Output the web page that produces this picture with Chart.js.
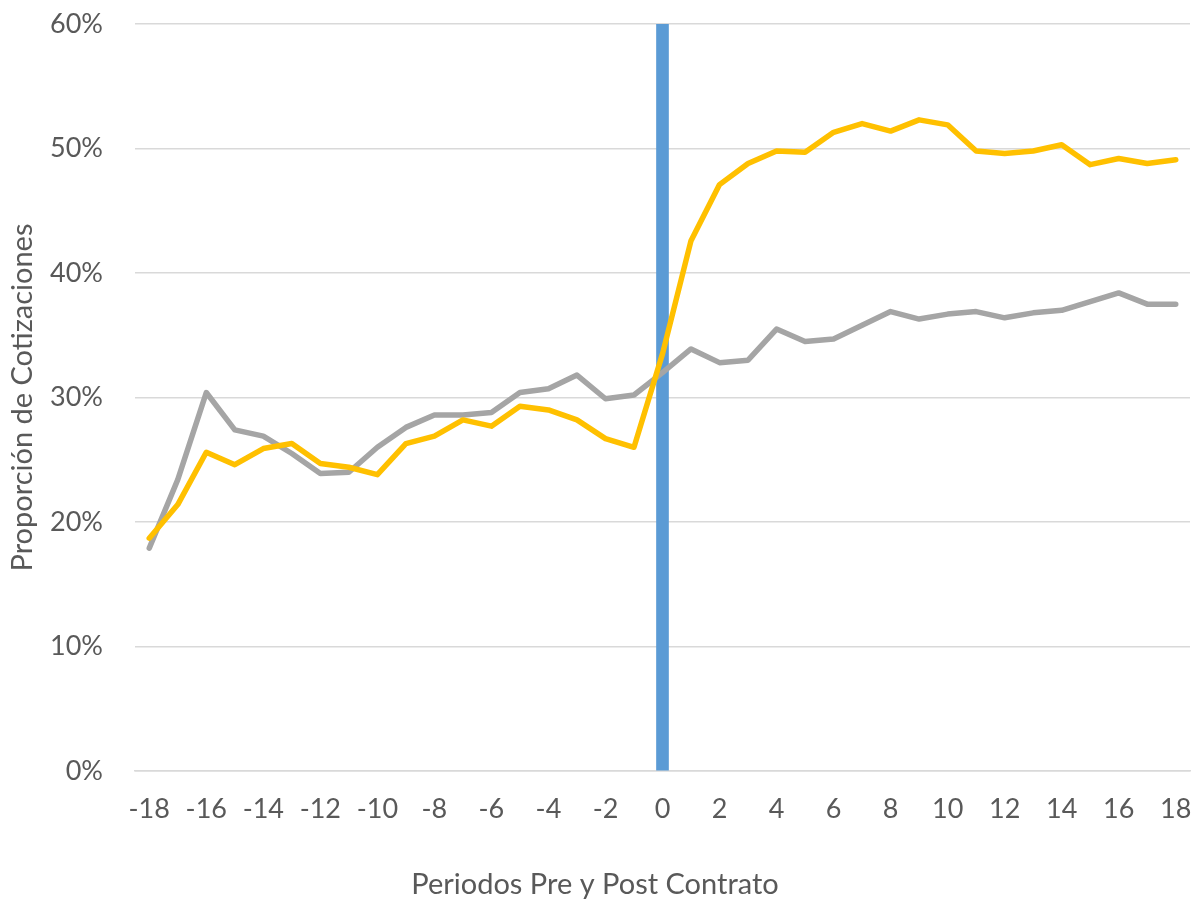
<!DOCTYPE html>
<html>
<head>
<meta charset="utf-8">
<script src="https://cdn.jsdelivr.net/npm/chart.js@4.4.1/dist/chart.umd.min.js"></script>
<style>
  html, body { margin: 0; padding: 0; background: #ffffff; }
  #wrap { width: 1198px; height: 903px; }
</style>
</head>
<body>
<div id="wrap"><canvas id="c" width="1198" height="903"></canvas></div>
<script>
const periods = ["-18","-17","-16","-15","-14","-13","-12","-11","-10","-9","-8","-7","-6","-5","-4","-3","-2","-1","0","1","2","3","4","5","6","7","8","9","10","11","12","13","14","15","16","17","18"];
const graySeries = [0.179,0.234,0.304,0.274,0.269,0.255,0.239,0.240,0.260,0.276,0.286,0.286,0.288,0.304,0.307,0.318,0.299,0.302,0.320,0.339,0.328,0.330,0.355,0.345,0.347,0.358,0.369,0.363,0.367,0.369,0.364,0.368,0.370,0.377,0.384,0.375,0.375];
const yellowSeries = [0.187,0.214,0.256,0.246,0.259,0.263,0.247,0.244,0.238,0.263,0.269,0.282,0.277,0.293,0.290,0.282,0.267,0.260,0.335,0.426,0.471,0.488,0.498,0.497,0.513,0.520,0.514,0.523,0.519,0.498,0.496,0.498,0.503,0.487,0.492,0.488,0.491];
const contractPeriod = "0";
const contractBarValue = 0.6;
const yTicks = [0, 0.1, 0.2, 0.3, 0.4, 0.5, 0.6];

const barData = periods.map(p => p === contractPeriod ? contractBarValue : null);
const FONT = "Lato";
const TXT = "#595959";

new Chart(document.getElementById('c'), {
  data: {
    labels: periods,
    datasets: [
      { type: 'bar', data: barData, backgroundColor: '#5B9BD5', barThickness: 12, order: 3 },
      { type: 'line', data: graySeries, borderColor: '#A5A5A5', borderWidth: 5.5, pointRadius: 0,
        borderJoinStyle: 'round', borderCapStyle: 'round', tension: 0, fill: false, order: 2 },
      { type: 'line', data: yellowSeries, borderColor: '#FFC000', borderWidth: 5.5, pointRadius: 0,
        borderJoinStyle: 'round', borderCapStyle: 'round', tension: 0, fill: false, order: 1 }
    ]
  },
  options: {
    responsive: false,
    animation: false,
    devicePixelRatio: 1,
    layout: { padding: { top: 24, right: 8, left: 0, bottom: 0 } },
    plugins: {
      legend: { display: false },
      tooltip: { enabled: false },
      title: {
        display: true, position: 'bottom', text: 'Periodos Pre y Post Contrato',
        color: TXT, font: { family: FONT, size: 29, weight: 'normal' },
        padding: { top: 10, bottom: 1 }
      }
    },
    scales: {
      x: {
        type: 'category',
        offset: true,
        grid: { display: false, drawTicks: false },
        border: { display: true, color: '#D9D9D9', width: 1.5 },
        ticks: {
          autoSkip: false, maxRotation: 0, padding: 22, color: TXT,
          font: { family: FONT, size: 27 },
          callback: function(v, i) { return i % 2 === 0 ? periods[i] : ''; }
        },
        afterFit: s => { s.height = 86.2; s.paddingLeft = 0; s.paddingRight = 0; }
      },
      y: {
        min: 0, max: 0.6,
        afterBuildTicks: s => { s.ticks = yTicks.map(v => ({ value: v })); },
        grid: { color: '#D9D9D9', lineWidth: 1.5, drawTicks: false },
        border: { display: false },
        ticks: {
          padding: 32, color: TXT, font: { family: FONT, size: 27 },
          callback: v => Math.round(v * 100) + '%'
        },
        title: {
          display: true, text: 'Proporción de Cotizaciones', color: TXT,
          font: { family: FONT, size: 29 }, padding: { top: 5.6, bottom: 0 }
        },
        afterFit: s => { s.width = 135; s.paddingTop = 0; s.paddingBottom = 0; }
      }
    }
  }
});
</script>
</body>
</html>
